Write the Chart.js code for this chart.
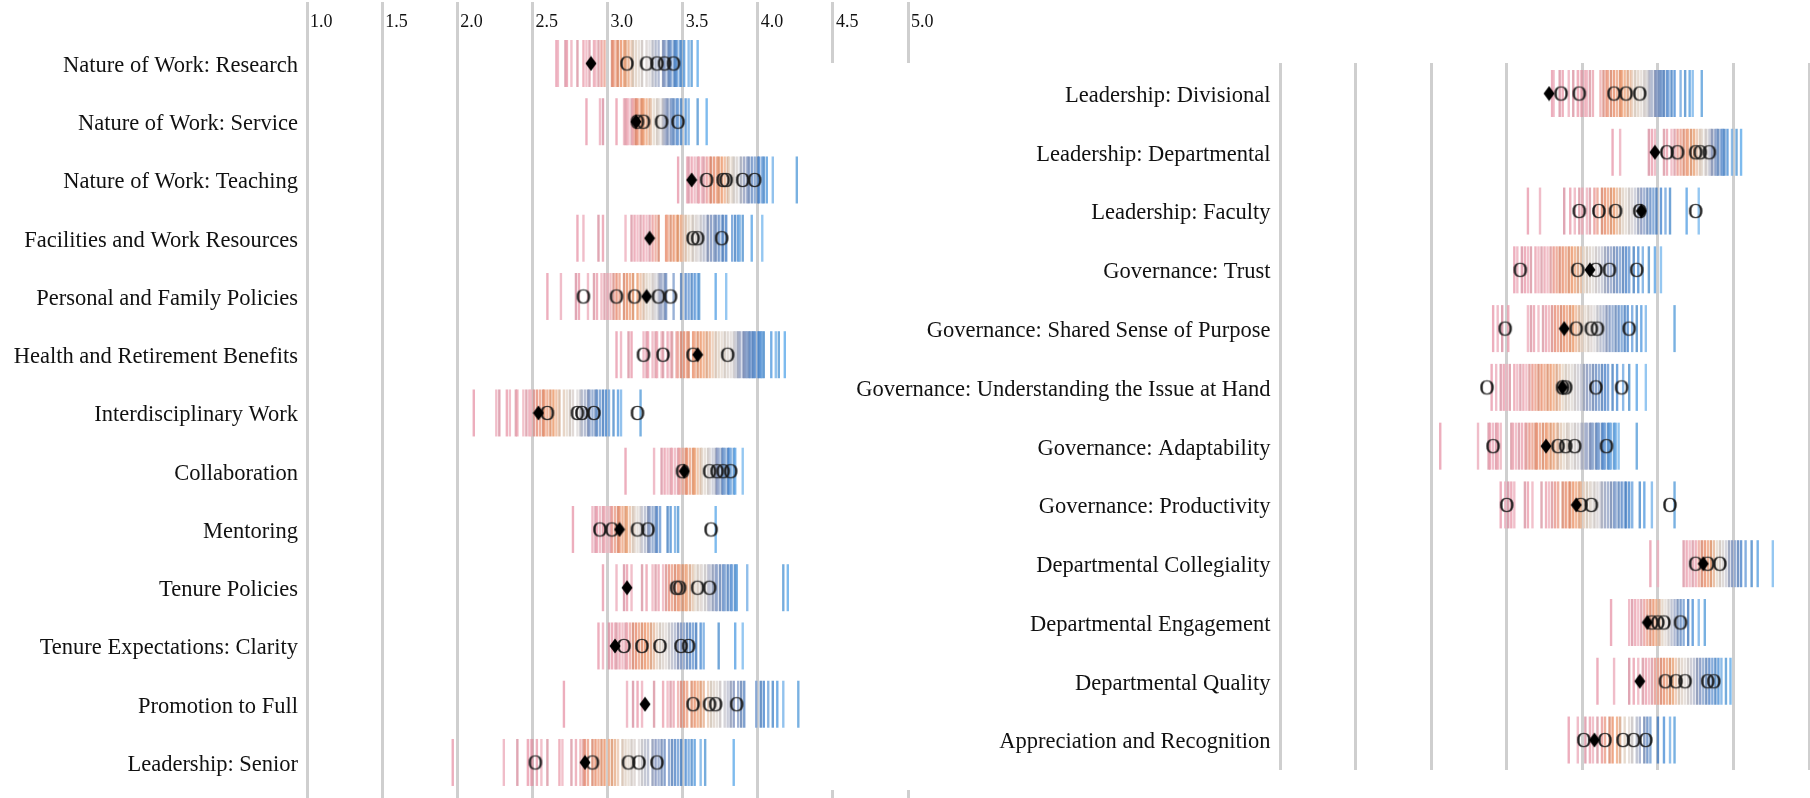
<!DOCTYPE html>
<html><head><meta charset="utf-8">
<script src="https://cdn.jsdelivr.net/npm/chart.js@4/dist/chart.umd.min.js"></script>
<style>
html,body{margin:0;padding:0;background:#fff;width:1810px;height:798px;overflow:hidden;position:relative}
#c1{position:absolute;left:0;top:0}
#c2{position:absolute;left:800px;top:63px;background:#fff}
</style></head><body>
<canvas id="c1" width="960" height="798" style="width:960px;height:798px"></canvas>
<canvas id="c2" width="1010" height="727" style="width:1010px;height:727px"></canvas>
<script>
// ---------------- DATA ----------------
const xTickValues = [1.0,1.5,2.0,2.5,3.0,3.5,4.0,4.5,5.0];
const xTickLabels = ['1.0','1.5','2.0','2.5','3.0','3.5','4.0','4.5','5.0'];

const leftCategories = [
  'Nature of Work: Research','Nature of Work: Service','Nature of Work: Teaching',
  'Facilities and Work Resources','Personal and Family Policies','Health and Retirement Benefits',
  'Interdisciplinary Work','Collaboration','Mentoring','Tenure Policies',
  'Tenure Expectations: Clarity','Promotion to Full','Leadership: Senior'
];
const leftMeans = [2.89,3.19,3.56,3.28,3.26,3.60,2.54,3.51,3.08,3.13,3.05,3.25,2.85];
const leftPeers = [
  [3.13,3.26,3.33,3.38,3.44],
  [3.20,3.24,3.36,3.47],
  [3.66,3.77,3.79,3.90,3.98],
  [3.57,3.60,3.76],
  [2.84,3.06,3.18,3.34,3.42],
  [3.24,3.37,3.57,3.80],
  [2.60,2.80,2.83,2.91,3.20],
  [3.50,3.68,3.73,3.77,3.82],
  [2.95,3.03,3.20,3.27,3.69],
  [3.46,3.48,3.60,3.68],
  [3.11,3.23,3.35,3.49,3.54],
  [3.57,3.68,3.72,3.86],
  [2.52,2.90,3.14,3.21,3.33]
];
const leftInstitutions = [
  [2.66,2.67,2.72,2.73,2.76,2.80,2.84,2.86,2.88,2.91,2.92,2.94,2.96,2.98,3.03,3.04,3.06,3.07,3.09,3.11,3.12,3.14,3.16,3.17,3.19,3.21,3.23,3.26,3.28,3.30,3.32,3.34,3.37,3.38,3.40,3.41,3.42,3.44,3.45,3.46,3.48,3.49,3.51,3.54,3.56,3.60],
  [2.86,2.95,2.97,3.06,3.11,3.12,3.13,3.14,3.16,3.17,3.18,3.19,3.20,3.22,3.23,3.24,3.26,3.28,3.29,3.31,3.33,3.34,3.36,3.37,3.38,3.39,3.40,3.42,3.43,3.44,3.46,3.47,3.49,3.52,3.54,3.60,3.66],
  [3.47,3.53,3.54,3.56,3.58,3.60,3.61,3.63,3.64,3.66,3.68,3.69,3.71,3.73,3.74,3.76,3.78,3.80,3.81,3.83,3.84,3.86,3.88,3.89,3.91,3.93,3.94,3.96,3.98,4.00,4.01,4.03,4.04,4.06,4.10,4.26],
  [2.80,2.84,2.94,2.97,3.12,3.16,3.18,3.20,3.22,3.24,3.26,3.28,3.30,3.32,3.34,3.39,3.40,3.42,3.44,3.46,3.47,3.49,3.50,3.52,3.54,3.56,3.57,3.59,3.60,3.62,3.64,3.66,3.67,3.69,3.71,3.72,3.74,3.76,3.77,3.79,3.83,3.85,3.87,3.88,3.90,3.96,4.03],
  [2.60,2.69,2.79,2.81,2.87,2.91,2.93,2.96,2.98,3.00,3.02,3.04,3.06,3.08,3.11,3.13,3.15,3.17,3.20,3.22,3.24,3.26,3.28,3.30,3.31,3.32,3.34,3.35,3.36,3.38,3.39,3.44,3.49,3.52,3.54,3.56,3.58,3.60,3.61,3.72,3.79],
  [3.06,3.09,3.14,3.16,3.24,3.26,3.27,3.30,3.32,3.33,3.36,3.37,3.40,3.42,3.43,3.46,3.47,3.49,3.51,3.53,3.54,3.57,3.58,3.60,3.62,3.64,3.66,3.68,3.70,3.72,3.74,3.76,3.78,3.80,3.82,3.84,3.85,3.86,3.87,3.88,3.90,3.91,3.92,3.93,3.94,3.95,3.96,3.97,3.98,4.00,4.01,4.02,4.03,4.04,4.09,4.12,4.14,4.18],
  [2.11,2.26,2.28,2.33,2.35,2.39,2.40,2.44,2.46,2.48,2.49,2.51,2.53,2.55,2.57,2.58,2.60,2.62,2.64,2.66,2.68,2.71,2.73,2.75,2.77,2.80,2.82,2.83,2.85,2.87,2.88,2.90,2.92,2.93,2.95,2.97,2.99,3.01,3.04,3.07,3.09,3.22],
  [3.12,3.31,3.36,3.38,3.40,3.42,3.43,3.45,3.47,3.48,3.50,3.52,3.53,3.55,3.57,3.58,3.60,3.62,3.63,3.65,3.67,3.68,3.70,3.72,3.73,3.74,3.76,3.77,3.78,3.80,3.81,3.82,3.84,3.85,3.90],
  [2.77,2.90,2.92,2.93,2.95,2.97,2.98,3.00,3.02,3.03,3.05,3.07,3.08,3.10,3.12,3.13,3.15,3.17,3.18,3.20,3.22,3.23,3.25,3.27,3.28,3.30,3.32,3.33,3.35,3.40,3.42,3.45,3.47,3.72],
  [2.97,3.06,3.11,3.13,3.16,3.23,3.26,3.30,3.32,3.34,3.37,3.39,3.41,3.43,3.45,3.47,3.48,3.50,3.52,3.53,3.55,3.57,3.58,3.60,3.62,3.63,3.65,3.67,3.68,3.70,3.72,3.73,3.75,3.77,3.78,3.80,3.82,3.83,3.85,3.86,3.93,4.17,4.20],
  [2.94,2.97,3.01,3.03,3.05,3.06,3.08,3.10,3.12,3.13,3.15,3.17,3.19,3.21,3.23,3.25,3.27,3.29,3.31,3.33,3.35,3.37,3.39,3.41,3.43,3.45,3.47,3.49,3.51,3.53,3.55,3.57,3.59,3.62,3.64,3.74,3.85,3.90],
  [2.71,3.13,3.17,3.20,3.23,3.31,3.37,3.40,3.42,3.44,3.47,3.49,3.51,3.53,3.56,3.58,3.60,3.62,3.64,3.67,3.69,3.71,3.73,3.75,3.78,3.80,3.82,3.84,3.87,3.89,3.91,3.99,4.02,4.04,4.07,4.10,4.13,4.17,4.27],
  [1.97,2.31,2.40,2.47,2.49,2.50,2.53,2.56,2.60,2.68,2.70,2.76,2.79,2.82,2.84,2.85,2.87,2.90,2.92,2.94,2.96,2.98,3.01,3.03,3.05,3.07,3.10,3.12,3.14,3.16,3.18,3.21,3.23,3.25,3.27,3.30,3.32,3.34,3.36,3.38,3.41,3.43,3.45,3.47,3.49,3.52,3.54,3.56,3.58,3.62,3.65,3.84]
];

const rightCategories = [
  'Leadership: Divisional','Leadership: Departmental','Leadership: Faculty','Governance: Trust',
  'Governance: Shared Sense of Purpose','Governance: Understanding the Issue at Hand',
  'Governance: Adaptability','Governance: Productivity','Departmental Collegiality',
  'Departmental Engagement','Departmental Quality','Appreciation and Recognition'
];
const rightMeans = [2.78,3.48,3.39,3.05,2.88,2.87,2.76,2.96,3.80,3.43,3.38,3.08];
const rightPeers = [
  [2.86,2.98,3.21,3.29,3.38],
  [3.56,3.63,3.75,3.78,3.84],
  [2.98,3.11,3.22,3.38,3.75],
  [2.59,2.97,3.09,3.18,3.36],
  [2.49,2.96,3.06,3.10,3.31],
  [2.37,2.87,2.89,3.09,3.26],
  [2.41,2.84,2.89,2.95,3.16],
  [2.50,2.99,3.06,3.58],
  [3.75,3.83,3.91],
  [3.46,3.50,3.54,3.65],
  [3.55,3.62,3.68,3.83,3.87],
  [3.01,3.15,3.27,3.34,3.42]
];
const rightInstitutions = [
  [2.80,2.81,2.85,2.87,2.91,2.94,2.97,2.99,3.00,3.02,3.03,3.05,3.07,3.12,3.14,3.16,3.17,3.19,3.21,3.23,3.25,3.26,3.28,3.30,3.32,3.33,3.35,3.37,3.39,3.41,3.42,3.43,3.44,3.45,3.46,3.48,3.49,3.50,3.51,3.52,3.53,3.54,3.56,3.57,3.59,3.61,3.65,3.68,3.71,3.73,3.79],
  [3.20,3.25,3.44,3.46,3.48,3.54,3.56,3.59,3.61,3.63,3.65,3.67,3.69,3.70,3.72,3.74,3.76,3.78,3.79,3.81,3.82,3.84,3.85,3.86,3.88,3.89,3.90,3.92,3.93,3.94,3.96,3.99,4.02,4.05],
  [2.64,2.72,2.88,2.92,2.95,2.98,3.00,3.03,3.05,3.08,3.10,3.13,3.15,3.17,3.19,3.21,3.23,3.25,3.27,3.29,3.31,3.33,3.35,3.37,3.39,3.41,3.43,3.45,3.47,3.49,3.52,3.55,3.58,3.69,3.77],
  [2.55,2.57,2.60,2.62,2.64,2.66,2.69,2.71,2.73,2.75,2.77,2.79,2.81,2.83,2.85,2.87,2.89,2.91,2.93,2.95,2.97,2.99,3.01,3.03,3.05,3.07,3.09,3.11,3.13,3.15,3.17,3.19,3.21,3.23,3.25,3.27,3.29,3.31,3.34,3.37,3.40,3.44,3.48,3.52],
  [2.41,2.44,2.47,2.51,2.64,2.66,2.68,2.71,2.74,2.76,2.78,2.80,2.82,2.84,2.86,2.88,2.90,2.92,2.94,2.96,2.98,3.00,3.02,3.04,3.06,3.08,3.10,3.12,3.14,3.16,3.18,3.20,3.22,3.24,3.26,3.28,3.30,3.33,3.36,3.39,3.42,3.61],
  [2.40,2.43,2.46,2.48,2.50,2.52,2.55,2.57,2.59,2.61,2.63,2.65,2.67,2.69,2.71,2.73,2.75,2.77,2.79,2.81,2.83,2.85,2.87,2.89,2.91,2.93,2.95,2.97,2.99,3.01,3.03,3.05,3.07,3.09,3.11,3.13,3.15,3.17,3.20,3.23,3.27,3.31,3.36,3.42],
  [2.06,2.31,2.38,2.39,2.41,2.43,2.44,2.46,2.53,2.54,2.56,2.58,2.60,2.62,2.63,2.65,2.67,2.69,2.70,2.72,2.74,2.76,2.77,2.79,2.81,2.83,2.84,2.86,2.88,2.90,2.91,2.93,2.95,2.97,2.99,3.00,3.02,3.03,3.05,3.06,3.07,3.09,3.10,3.11,3.13,3.14,3.15,3.17,3.18,3.19,3.21,3.22,3.24,3.36],
  [2.46,2.49,2.51,2.53,2.55,2.62,2.64,2.67,2.73,2.76,2.78,2.80,2.82,2.84,2.87,2.89,2.91,2.92,2.94,2.96,2.98,2.99,3.01,3.03,3.05,3.06,3.08,3.10,3.12,3.13,3.15,3.17,3.19,3.21,3.22,3.24,3.26,3.28,3.29,3.31,3.33,3.38,3.41,3.46,3.61],
  [3.45,3.50,3.67,3.69,3.71,3.73,3.75,3.77,3.79,3.81,3.83,3.85,3.87,3.89,3.91,3.93,3.95,3.97,3.99,4.01,4.03,4.05,4.08,4.12,4.16,4.26],
  [3.19,3.31,3.33,3.35,3.37,3.39,3.41,3.43,3.45,3.47,3.49,3.51,3.53,3.55,3.57,3.59,3.61,3.63,3.65,3.67,3.70,3.73,3.77,3.81],
  [3.10,3.21,3.31,3.34,3.37,3.40,3.42,3.44,3.46,3.48,3.50,3.52,3.54,3.56,3.58,3.60,3.62,3.64,3.66,3.68,3.70,3.72,3.74,3.76,3.78,3.80,3.82,3.84,3.86,3.88,3.90,3.92,3.95,3.98],
  [2.91,2.97,3.02,3.05,3.07,3.10,3.13,3.15,3.18,3.20,3.23,3.25,3.28,3.31,3.33,3.36,3.38,3.41,3.43,3.45,3.50,3.54,3.58,3.61]
];

// ---------------- STYLE HELPERS ----------------
const SERIF = "'Liberation Serif','Times New Roman',serif";
const stops = [
  [0.00,[233,156,174]],[0.24,[236,166,178]],[0.30,[231,138,112]],[0.44,[236,152,104]],
  [0.52,[226,210,194]],[0.62,[214,210,212]],[0.70,[132,148,188]],[0.86,[72,132,204]],[1.00,[98,172,234]]
];
function rampColor(p, j){
  let i=0; while(i<stops.length-2 && p>stops[i+1][0]) i++;
  const [p0,c0]=stops[i],[p1,c1]=stops[i+1];
  const t=Math.max(0,Math.min(1,(p-p0)/(p1-p0)));
  let c=c0.map((v,k)=>v+(c1[k]-v)*t);
  const m=j%3;
  if(m===1) c=c.map(v=>v+(255-v)*0.18);
  else if(m===2) c=c.map(v=>v*0.93);
  return `rgba(${c.map(Math.round).join(',')},0.82)`;
}
function oMarker(){
  const c=document.createElement('canvas'); c.width=18; c.height=22;
  const g=c.getContext('2d'); g.font="20.5px 'Liberation Serif'"; g.fillStyle='#1e1e1e';
  g.strokeStyle='rgba(30,30,30,0.7)'; g.lineWidth=0.5;
  g.textAlign='center'; g.textBaseline='alphabetic'; g.fillText('O',9,17.8); g.strokeText('O',9,17.8); return c;
}
function dMarker(){
  const c=document.createElement('canvas'); c.width=12; c.height=16;
  const g=c.getContext('2d'); g.fillStyle='#000'; g.beginPath();
  g.moveTo(6,0.5); g.lineTo(11.5,8); g.lineTo(6,15.5); g.lineTo(0.5,8); g.closePath(); g.fill(); return c;
}
const O_IMG=oMarker(), D_IMG=dMarker();

function build(canvasId, cats, means, peers, inst, cfg){
  const tickPts=[], tickCols=[];
  inst.forEach((row,i)=>{ const n=row.length; row.forEach((v,j)=>{ tickPts.push({x:v,y:i}); tickCols.push(rampColor(n>1?j/(n-1):0.5, j)); }); });
  const peerPts=[]; peers.forEach((row,i)=>row.forEach(v=>peerPts.push({x:v,y:i})));
  const meanPts=means.map((v,i)=>({x:v,y:i}));
  return new Chart(document.getElementById(canvasId),{
    type:'scatter',
    data:{datasets:[
      {label:'mean',data:meanPts,pointStyle:D_IMG,pointRadius:6,order:0,clip:false},
      {label:'peers',data:peerPts,pointStyle:O_IMG,pointRadius:6,order:1,clip:false},
      {label:'institutions',data:tickPts,pointStyle:'line',rotation:90,pointRadius:23.5,pointBorderWidth:2.4,borderWidth:2.4,pointBorderColor:tickCols,borderColor:tickCols,order:2,clip:false}
    ]},
    options:{
      responsive:false,animation:false,events:[],
      layout:{padding:cfg.padding,autoPadding:false},
      plugins:{legend:{display:false},tooltip:{enabled:false}},
      elements:{point:{hoverRadius:0}},
      scales:{
        x:{type:'linear',position:'top',min:1,max:cfg.xmax,
          afterBuildTicks:s=>{s.ticks=cfg.xticks.map(v=>({value:v}));},
          afterFit:s=>{s.height=cfg.xh; s.paddingLeft=0; s.paddingRight=0;},
          ticks:{display:cfg.showX,align:'start',padding:-31,labelOffset:3,autoSkip:false,maxRotation:0,minRotation:0,color:'#111',
            font:{family:SERIF,size:18},callback:(v,i)=>xTickLabels[i]},
          grid:{color:'#cfcfcf',lineWidth:3,drawTicks:cfg.showX,tickLength:32,tickColor:'#cfcfcf'},
          border:{display:false}},
        y:{type:'linear',reverse:true,min:cfg.ymin,max:cfg.ymax,
          afterBuildTicks:s=>{s.ticks=cats.map((c,i)=>({value:i}));},
          afterFit:s=>{s.width=cfg.yw; s.paddingTop=0; s.paddingBottom=0;},
          ticks:{autoSkip:false,padding:cfg.ypad,labelOffset:2.5,color:'#111',font:{family:SERIF,size:22.5},callback:v=>cats[v]},
          grid:{display:false,drawTicks:false},border:{display:false}}
      }
    }
  });
}

build('c1',leftCategories,leftMeans,leftPeers,leftInstitutions,
  {padding:{left:0,right:52,top:0,bottom:0},xmax:5,xticks:xTickValues,xh:34,showX:true,ymin:-0.506,ymax:12.61,yw:307,ypad:9});
build('c2',rightCategories,rightMeans,rightPeers,rightInstitutions,
  {padding:{left:0,right:0,top:0,bottom:20},xmax:4.506,xticks:xTickValues.slice(0,8),xh:0,showX:false,ymin:-0.519,ymax:11.51,yw:480,ypad:9.5});
</script>
</body></html>
